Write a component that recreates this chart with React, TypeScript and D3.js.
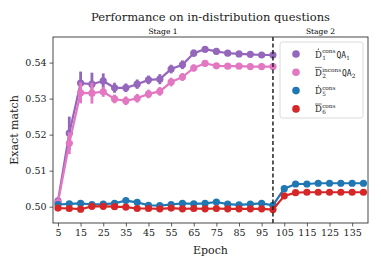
import { useRef, useEffect } from 'react';
import * as d3 from 'd3';

const epochs = [5, 10, 15, 20, 25, 30, 35, 40, 45, 50, 55, 60, 65, 70, 75, 80, 85, 90, 95, 100, 105, 110, 115, 120, 125, 130, 135, 140];
const stage1Epochs = epochs.slice(0, 20);

const d1Cons = [0.5016, 0.5204, 0.5343, 0.534, 0.5349, 0.533, 0.533, 0.534, 0.5352, 0.5354, 0.5382, 0.5394, 0.5426, 0.5437, 0.5431, 0.5426, 0.5424, 0.5423, 0.5421, 0.5421];
const d1ConsErr = [0.0008, 0.0046, 0.0032, 0.0032, 0.0021, 0.0014, 0.0012, 0.0013, 0.0012, 0.0014, 0.0012, 0.0012, 0.001, 0.0009, 0.0008, 0.0008, 0.0008, 0.0008, 0.0008, 0.0008];
const d2Incons = [0.5012, 0.5176, 0.5316, 0.5315, 0.5319, 0.5299, 0.5294, 0.5301, 0.5313, 0.532, 0.5346, 0.536, 0.5385, 0.5398, 0.5391, 0.539, 0.539, 0.5389, 0.5389, 0.5389];
const d2InconsErr = [0.0008, 0.003, 0.0029, 0.0029, 0.0014, 0.0012, 0.0012, 0.0012, 0.0012, 0.0012, 0.0012, 0.0011, 0.001, 0.0009, 0.0008, 0.0008, 0.0008, 0.0008, 0.0008, 0.0008];
const d5Cons = [0.5006, 0.5008, 0.5009, 0.5006, 0.5007, 0.5009, 0.5017, 0.5012, 0.5004, 0.5003, 0.5006, 0.5009, 0.5008, 0.5009, 0.5013, 0.5007, 0.5005, 0.5007, 0.5009, 0.5004, 0.505, 0.5063, 0.5063, 0.5065, 0.5065, 0.5065, 0.5065, 0.5065];
const d5ConsErr = [0.0006, 0.0006, 0.0006, 0.0006, 0.0006, 0.0006, 0.0007, 0.0006, 0.0006, 0.0006, 0.0006, 0.0006, 0.0006, 0.0006, 0.0007, 0.0006, 0.0006, 0.0006, 0.0006, 0.0006, 0.0007, 0.0007, 0.0007, 0.0007, 0.0007, 0.0007, 0.0007, 0.0007];
const d6Cons = [0.4996, 0.4995, 0.4993, 0.5001, 0.5001, 0.5, 0.4999, 0.4995, 0.4995, 0.4994, 0.4996, 0.4994, 0.4995, 0.4994, 0.4995, 0.4994, 0.4994, 0.4994, 0.4994, 0.4992, 0.503, 0.5039, 0.504, 0.504, 0.504, 0.504, 0.504, 0.504];
const d6ConsErr = [0.0006, 0.0007, 0.0008, 0.0008, 0.0008, 0.0008, 0.0008, 0.0007, 0.0007, 0.0008, 0.0008, 0.0008, 0.0008, 0.0008, 0.0008, 0.0008, 0.0008, 0.0008, 0.0008, 0.0008, 0.0007, 0.0007, 0.0007, 0.0007, 0.0007, 0.0007, 0.0007, 0.0007];

const xTicks = [5, 15, 25, 35, 45, 55, 65, 75, 85, 95, 105, 115, 125, 135];
const yTicks = [0.5, 0.51, 0.52, 0.53, 0.54];

const series = [
  { x: stage1Epochs, y: d1Cons, err: d1ConsErr, color: '#9467bd', mark: 'dot', sup: 'cons', sub: '1', qa: '1' },
  { x: stage1Epochs, y: d2Incons, err: d2InconsErr, color: '#e377c2', mark: 'bar', sup: 'incons', sub: '2', qa: '2' },
  { x: epochs, y: d5Cons, err: d5ConsErr, color: '#1f77b4', mark: 'dot', sup: 'cons', sub: '5', qa: null },
  { x: epochs, y: d6Cons, err: d6ConsErr, color: '#d62728', mark: 'bar', sup: 'cons', sub: '6', qa: null },
];

const serif = '"DejaVu Serif", serif';

function App() {
  const svgRef = useRef(null);

  useEffect(() => {
    const svg = d3.select(svgRef.current);
    svg.selectAll('*').remove();

    const margin = { top: 37, right: 13, bottom: 45, left: 53 };
    const width = 381 - margin.left - margin.right;
    const height = 268 - margin.top - margin.bottom;

    const xScale = d3.scaleLinear().domain([2.8, 142]).range([0, width]);
    const yScale = d3.scaleLinear().domain([0.49547, 0.5471]).range([height, 0]);

    const g = svg.append('g').attr('transform', `translate(${margin.left}, ${margin.top})`);

    const defs = svg.append('defs');
    defs.append('clipPath').attr('id', 'plot-clip')
      .append('rect').attr('width', width).attr('height', height);

    // axes
    const xAxis = d3.axisBottom(xScale).tickValues(xTicks).tickSize(3.5).tickPadding(3);
    const yAxis = d3.axisLeft(yScale).tickValues(yTicks).tickFormat(d3.format('.2f')).tickSize(3.5).tickPadding(3);

    const xg = g.append('g').attr('transform', `translate(0, ${height})`).call(xAxis);
    const yg = g.append('g').call(yAxis);
    [xg, yg].forEach((ax) => {
      ax.select('.domain').remove();
      ax.selectAll('line').attr('stroke', '#333').attr('stroke-width', 0.8);
      ax.selectAll('text').attr('font-family', serif).attr('font-size', 9.5).attr('fill', '#222');
    });

    const plot = g.append('g').attr('clip-path', 'url(#plot-clip)');

    series.forEach((s) => {
      const pts = s.x.map((x, i) => ({ x, y: s.y[i], e: s.err[i] }));
      const line = d3.line().x((d) => xScale(d.x)).y((d) => yScale(d.y));
      plot.append('path')
        .datum(pts)
        .attr('d', line)
        .attr('fill', 'none')
        .attr('stroke', s.color)
        .attr('stroke-width', 2.2);
      plot.append('g').selectAll('line')
        .data(pts)
        .enter()
        .append('line')
        .attr('x1', (d) => xScale(d.x))
        .attr('x2', (d) => xScale(d.x))
        .attr('y1', (d) => yScale(d.y - d.e))
        .attr('y2', (d) => yScale(d.y + d.e))
        .attr('stroke', s.color)
        .attr('stroke-width', 2.8);
      plot.append('g').selectAll('circle')
        .data(pts)
        .enter()
        .append('circle')
        .attr('cx', (d) => xScale(d.x))
        .attr('cy', (d) => yScale(d.y))
        .attr('r', 3.6)
        .attr('fill', s.color);
    });

    // stage boundary
    g.append('line')
      .attr('x1', xScale(100))
      .attr('x2', xScale(100))
      .attr('y1', 0)
      .attr('y2', height)
      .attr('stroke', '#222')
      .attr('stroke-width', 1.5)
      .attr('stroke-dasharray', '4,2.5');

    // frame
    g.append('rect')
      .attr('width', width)
      .attr('height', height)
      .attr('fill', 'none')
      .attr('stroke', '#333')
      .attr('stroke-width', 0.9);

    // stage labels
    g.append('text')
      .attr('x', xScale(100) / 2)
      .attr('y', -3)
      .attr('text-anchor', 'middle')
      .attr('font-family', serif)
      .attr('font-size', 7.5)
      .text('Stage 1');
    g.append('text')
      .attr('x', (xScale(100) + width) / 2)
      .attr('y', -3)
      .attr('text-anchor', 'middle')
      .attr('font-family', serif)
      .attr('font-size', 7.5)
      .text('Stage 2');

    // title and axis labels
    svg.append('text')
      .attr('x', margin.left + width / 2)
      .attr('y', 21)
      .attr('text-anchor', 'middle')
      .attr('font-family', serif)
      .attr('font-size', 11.5)
      .attr('fill', '#222')
      .text('Performance on in-distribution questions');
    svg.append('text')
      .attr('x', margin.left + width / 2)
      .attr('y', 254)
      .attr('text-anchor', 'middle')
      .attr('font-family', serif)
      .attr('font-size', 11)
      .attr('fill', '#222')
      .text('Epoch');
    svg.append('text')
      .attr('transform', `translate(18, ${margin.top + height / 2}) rotate(-90)`)
      .attr('text-anchor', 'middle')
      .attr('font-family', serif)
      .attr('font-size', 11)
      .attr('fill', '#222')
      .text('Exact match');

    // legend
    const lg = svg.append('g').attr('transform', 'translate(280, 42)');
    lg.append('rect')
      .attr('width', 83)
      .attr('height', 76)
      .attr('rx', 2.5)
      .attr('fill', 'white')
      .attr('fill-opacity', 0.85)
      .attr('stroke', '#d0d0d0')
      .attr('stroke-width', 0.8);

    series.forEach((s, i) => {
      const cy = 12 + i * 18.3;
      lg.append('circle').attr('cx', 16).attr('cy', cy).attr('r', 3.8).attr('fill', s.color);
      const x0 = 35;
      const base = cy + 3.5;
      const dText = lg.append('text')
        .attr('x', x0).attr('y', base)
        .attr('font-family', serif).attr('font-size', 8.5).attr('fill', '#222')
        .text('D');
      const dw = dText.node().getComputedTextLength();
      if (s.mark === 'dot') {
        lg.append('circle').attr('cx', x0 + dw / 2).attr('cy', base - 8.3).attr('r', 0.6).attr('fill', '#222');
      } else {
        lg.append('line')
          .attr('x1', x0).attr('x2', x0 + dw)
          .attr('y1', base - 8.4).attr('y2', base - 8.4)
          .attr('stroke', '#222').attr('stroke-width', 0.6);
      }
      const sup = lg.append('text')
        .attr('x', x0 + dw + 0.3).attr('y', base - 4.2)
        .attr('font-family', serif).attr('font-size', 5.8).attr('fill', '#222')
        .text(s.sup);
      lg.append('text')
        .attr('x', x0 + dw + 0.3).attr('y', base + 2)
        .attr('font-family', serif).attr('font-size', 5.8).attr('fill', '#222')
        .text(s.sub);
      if (s.qa) {
        const qx = x0 + dw + 0.3 + sup.node().getComputedTextLength() + 0.8;
        const qa = lg.append('text')
          .attr('x', qx).attr('y', base)
          .attr('font-family', '"DejaVu Sans Mono", monospace').attr('font-size', 8).attr('fill', '#222')
          .text('QA');
        lg.append('text')
          .attr('x', qx + qa.node().getComputedTextLength() + 0.2).attr('y', base + 2)
          .attr('font-family', serif).attr('font-size', 5.8).attr('fill', '#222')
          .text(s.qa);
      }
    });

    return () => {
      svg.selectAll('*').remove();
    };
  }, []);

  return (
    <svg
      ref={svgRef}
      width={381}
      height={268}
      style={{ position: 'absolute', left: 0, top: 0, background: 'white' }}
    />
  );
}

export default App;
